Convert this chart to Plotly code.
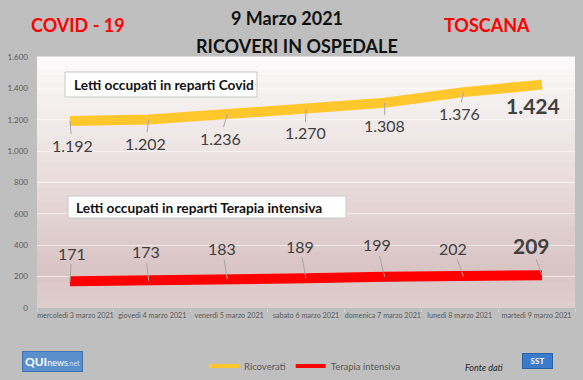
import plotly.graph_objects as go

# ---- data ----
dates = ["mercoledì 3 marzo 2021", "giovedì 4 marzo 2021", "venerdì 5 marzo 2021",
         "sabato 6 marzo 2021", "domenica 7 marzo 2021", "lunedì 8 marzo 2021",
         "martedì 9 marzo 2021"]
ricoverati = [1192, 1202, 1236, 1270, 1308, 1376, 1424]
terapia = [171, 173, 183, 189, 199, 202, 209]
y_ticks = [0, 200, 400, 600, 800, 1000, 1200, 1400, 1600]

# ---- style (label offsets in px) ----
ric_ax = [2, -3, -7, -1, 0, -4, -9]
ric_ay = [24, 24, 24, 24, 23, 21, 21]
ter_ax = [2, -3, -5, -6, -8, -10, -11]
ter_ay = [-28, -29, -31, -32, -32, -28, -30]

FONT = "Lato"
YELLOW = "#FFC72C"
RED = "#FF0000"
GRAY_TXT = "#404040"

L, R, T, B = 37, 575, 57, 308
W, H = 583, 380


def px(x):
    return (x - L) / (R - L)


def py(y):
    return (B - y) / (B - T)


def fmt(v):
    return f"{v:,}".replace(",", ".")


fig = go.Figure()
# thin traces on the category label axis, used for the legend swatches
# (they sit underneath the thick lines)
fig.add_trace(go.Scatter(x=dates, y=ricoverati, mode="lines", name="Ricoverati", xaxis="x2",
                         line=dict(color=YELLOW, width=4), hoverinfo="skip"))
fig.add_trace(go.Scatter(x=dates, y=terapia, mode="lines", name="Terapia intensiva", xaxis="x2",
                         line=dict(color=RED, width=4), hoverinfo="skip"))
fig.add_trace(go.Scatter(x=dates, y=ricoverati, mode="lines", showlegend=False,
                         line=dict(color=YELLOW, width=10), hoverinfo="skip"))
fig.add_trace(go.Scatter(x=dates, y=terapia, mode="lines", showlegend=False,
                         line=dict(color=RED, width=10), hoverinfo="skip"))

annotations = []
for i, d in enumerate(dates):
    last = i == len(dates) - 1
    annotations.append(dict(
        x=d, y=ricoverati[i], xref="x", yref="y", text=fmt(ricoverati[i]),
        showarrow=not last, arrowhead=0, arrowwidth=1, arrowcolor="#a6a6a6",
        ax=ric_ax[i], ay=ric_ay[i],
        xshift=ric_ax[i] if last else 0, yshift=-ric_ay[i] if last else 0,
        font=dict(family=FONT, size=21 if last else 16, color=GRAY_TXT,
                  weight="bold" if last else "normal")))
    annotations.append(dict(
        x=d, y=terapia[i], xref="x", yref="y", text=str(terapia[i]),
        showarrow=True, arrowhead=0, arrowwidth=1, arrowcolor="#a6a6a6",
        ax=ter_ax[i], ay=ter_ay[i],
        font=dict(family=FONT, size=21 if last else 16, color=GRAY_TXT,
                  weight="bold" if last else "normal")))


def pa(x, y, text, size, color, xanchor="center", **kw):
    d = dict(x=px(x), y=py(y), xref="paper", yref="paper", text=text, showarrow=False,
             xanchor=xanchor, yanchor="middle", font=dict(family=FONT, size=size, color=color))
    d.update(kw)
    return d


annotations += [
    pa(287, 18, "<b>9 Marzo 2021</b>", 18, "#111111"),
    pa(297, 46, "<b>RICOVERI IN OSPEDALE</b>", 18, "#111111"),
    pa(78, 25, "<b>COVID - 19</b>", 18, RED),
    pa(487, 25, "<b>TOSCANA</b>", 18, RED),
    pa(72, 84.5, "<b>Letti occupati in reparti Covid</b>", 13.7, "#111111", xanchor="left"),
    pa(74, 207, "<b>Letti occupati in reparti Terapia intensiva</b>", 13.7, "#111111",
       xanchor="left"),
    pa(484, 367, "<i>Fonte dati</i>", 9, "#262626"),
    pa(52, 361, "<b>QUI</b><span style='font-size:9px'>news</span>"
                "<span style='font-size:7px;color:#cfe0f5'>.net</span>", 12, "white",
       bgcolor="#5a8fcb", bordercolor="#3f73b0", borderwidth=1, borderpad=2),
    pa(537, 361, "<b>SST</b>", 8, "white", width=27, height=12,
       bgcolor="#3b7bcc", bordercolor="#2a62a8", borderwidth=1, borderpad=1),
]

# background gradient strips and text boxes
shapes = []
stops = [(0.0, (0xE0, 0xCF, 0xCF)), (0.15, (0xD9, 0xC4, 0xC4)), (0.5, (0xE9, 0xDC, 0xDC)),
         (1.0, (0xFB, 0xFA, 0xFA))]
N = 40


def col_at(t):
    for (t0, c0), (t1, c1) in zip(stops[:-1], stops[1:]):
        if t0 <= t <= t1:
            f = (t - t0) / (t1 - t0)
            return "rgb(%d,%d,%d)" % tuple(round(a + (b - a) * f) for a, b in zip(c0, c1))
    return "rgb(251,250,250)"


for k in range(N):
    y0 = k / N
    y1 = (k + 1) / N
    shapes.append(dict(type="rect", xref="paper", yref="paper", x0=0, x1=1, y0=y0, y1=y1 + 0.002,
                       fillcolor=col_at((y0 + y1) / 2), line=dict(width=0), layer="below"))
shapes.append(dict(type="rect", xref="paper", yref="paper", x0=px(65), x1=px(257),
                   y0=py(97), y1=py(72), fillcolor="white",
                   line=dict(color="#c8c8c8", width=1), layer="above"))
shapes.append(dict(type="rect", xref="paper", yref="paper", x0=px(68), x1=px(346),
                   y0=py(218), y1=py(196), fillcolor="white",
                   line=dict(color="#c8c8c8", width=1), layer="above"))

# data x-axis range: point 0 at px 70, last at px 542
sp = (542 - 70) / 6
r0 = -(70 - L) / sp
r1 = r0 + (R - L) / sp

fig.update_layout(
    width=W, height=H,
    margin=dict(l=L, r=W - R, t=T, b=H - B, autoexpand=False),
    paper_bgcolor="#bfbfbf",
    plot_bgcolor="rgba(0,0,0,0)",
    separators=",.",
    font=dict(family=FONT, color="#595959"),
    xaxis=dict(type="category", range=[r0, r1], showticklabels=False, showgrid=False,
               zeroline=False, showline=False, fixedrange=True, automargin=False),
    xaxis2=dict(type="category", overlaying="x", anchor="y", side="bottom",
                categoryorder="array", categoryarray=dates, range=[-0.5, 6.5],
                tickangle=0, tickson="boundaries", ticks="outside", ticklen=3,
                tickcolor="#d6d6d6", tickwidth=1,
                tickfont=dict(family=FONT, size=7.2, color="#595959"), automargin=False,
                showgrid=False, zeroline=False, showline=False, ticklabelstandoff=2),
    yaxis=dict(range=[0, 1600], tickvals=y_ticks, tickformat=",d", automargin=False,
               tickfont=dict(family=FONT, size=8, color="#595959"),
               gridcolor="rgba(255,255,255,0.55)", gridwidth=1, zeroline=False,
               showline=False, ticks="", ticklabelstandoff=8),
    legend=dict(orientation="h", x=px(204), y=py(366), xanchor="left", yanchor="middle",
                font=dict(family=FONT, size=9.5, color="#595959"),
                bgcolor="rgba(0,0,0,0)", itemwidth=30, tracegroupgap=0),
    annotations=annotations,
    shapes=shapes,
)

fig.write_html("out.html", config={"displayModeBar": False},
               post_script="document.body.style.margin='0';")
